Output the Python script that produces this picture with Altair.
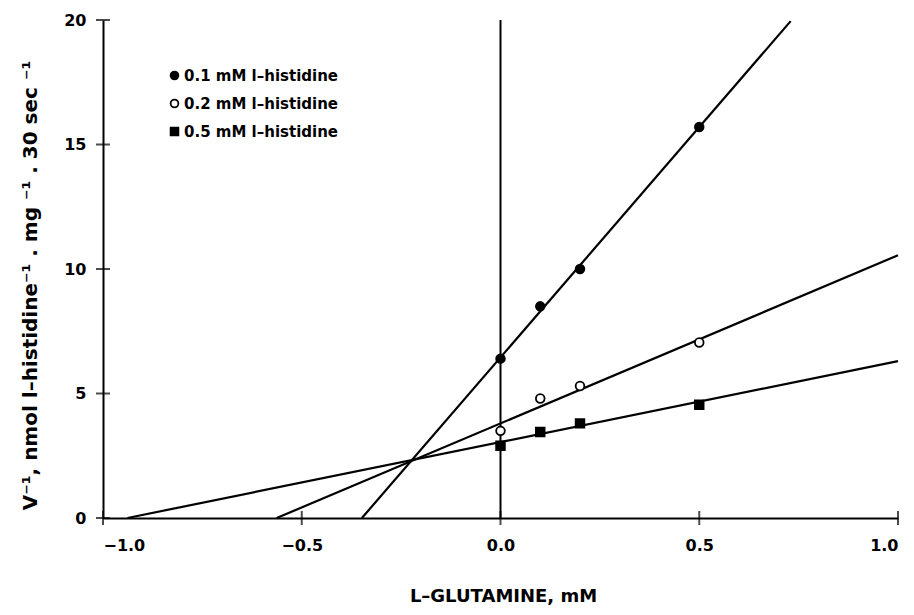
import altair as alt
import pandas as pd

# L-glutamine concentration (mM) at which reciprocal velocities were measured
glutamine_mM = [0.0, 0.1, 0.2, 0.5]

# 1/v for each l-histidine concentration
inv_v_his_01 = [6.4, 8.5, 10.0, 15.7]
inv_v_his_02 = [3.5, 4.8, 5.3, 7.05]
inv_v_his_05 = [2.9, 3.45, 3.8, 4.55]

series_labels = ["0.1 mM l–histidine", "0.2 mM l–histidine", "0.5 mM l–histidine"]

# fitted straight lines (intercept at 0 mM, slope) and where each is drawn to
fit_intercepts = [6.45, 3.8, 3.05]
fit_slopes = [18.5, 6.75, 3.25]
fit_x_end = [0.73, 1.0, 1.0]

x_ticks = [-1.0, -0.5, 0.0, 0.5, 1.0]
y_ticks = [0, 5, 10, 15, 20]

FONT = "DejaVu Sans"

# ---- tables -------------------------------------------------------------
rows = []
for label, vals in zip(series_labels, [inv_v_his_01, inv_v_his_02, inv_v_his_05]):
    for xv, yv in zip(glutamine_mM, vals):
        rows.append({"x": xv, "y": yv, "series": label})
points_df = pd.DataFrame(rows)

line_rows = []
for label, b, m, xe in zip(series_labels, fit_intercepts, fit_slopes, fit_x_end):
    x0 = -b / m  # where the fitted line meets the x axis
    line_rows.append({"x": x0, "y": 0.0, "series": label, "order": 0})
    line_rows.append({"x": xe, "y": b + m * xe, "series": label, "order": 1})
lines_df = pd.DataFrame(line_rows)

zero_df = pd.DataFrame({"x": [0.0], "y": [0.0], "y2": [20.0]})
xtick_df = pd.DataFrame({"x": x_ticks, "y": [0.0] * len(x_ticks)})
ytick_df = pd.DataFrame({"x": [-1.0] * len(y_ticks), "y": y_ticks})

# ---- scales & axes ------------------------------------------------------
x_scale = alt.Scale(domain=[-1.0, 1.0], nice=False, zero=False)
y_scale = alt.Scale(domain=[0, 20], nice=False, zero=False)

x_axis = alt.Axis(
    values=x_ticks, format=".1f", ticks=False, grid=False,
    domainColor="black", domainWidth=2,
    labelFont=FONT, labelFontSize=16, labelFontWeight="bold", labelColor="black",
    labelPadding=19,
    title="L–GLUTAMINE, mM", titleFont=FONT, titleFontSize=18, titleFontWeight="bold",
    titleColor="black", titleX=400, titleY=78, titleAlign="center", titleBaseline="middle",
)
y_axis = alt.Axis(
    values=y_ticks, format="d", ticks=False, grid=False,
    domainColor="black", domainWidth=2,
    labelFont=FONT, labelFontSize=16, labelFontWeight="bold", labelColor="black",
    labelPadding=17,
    title="V⁻¹, nmol l–histidine⁻¹ . mg ⁻¹ . 30 sec ⁻¹",
    titleFont=FONT, titleFontSize=20, titleFontWeight="bold", titleColor="black",
    titleAngle=-90, titleX=-73, titleY=265, titleAlign="center", titleBaseline="middle",
)

X = alt.X("x:Q", scale=x_scale, axis=x_axis)
Y = alt.Y("y:Q", scale=y_scale, axis=y_axis)

# vertical line at zero glutamine
zero_line = alt.Chart(zero_df).mark_rule(color="black", strokeWidth=2).encode(
    x=X, y=Y, y2="y2:Q"
)

fit_lines = alt.Chart(lines_df).mark_line(color="black", strokeWidth=2.2).encode(
    x=X, y=Y, detail="series:N", order="order:Q"
)

# axis ticks that cross the axis lines
x_tick_marks = alt.Chart(xtick_df).mark_tick(
    orient="vertical", color="black", size=14, thickness=2
).encode(x=X, y=Y)
y_tick_marks = alt.Chart(ytick_df).mark_tick(
    orient="horizontal", color="black", size=14, thickness=2
).encode(x=X, y=Y)

no_title = alt.Legend(title=None)
pts = alt.Chart(points_df).mark_point(
    strokeWidth=1.8, opacity=1, size=75
).encode(
    x=X, y=Y,
    shape=alt.Shape(
        "series:N",
        scale=alt.Scale(domain=series_labels, range=["circle", "circle", "square"]),
        legend=no_title,
    ),
    fill=alt.Fill(
        "series:N",
        scale=alt.Scale(domain=series_labels, range=["black", "white", "black"]),
        legend=no_title,
    ),
    stroke=alt.Stroke(
        "series:N",
        scale=alt.Scale(domain=series_labels, range=["black", "black", "black"]),
        legend=no_title,
    ),
)

chart = (
    alt.layer(zero_line, fit_lines, x_tick_marks, y_tick_marks, pts)
    .properties(
        width=795, height=498,
        padding={"left": 103, "top": 20, "right": 16, "bottom": 97},
        autosize=alt.AutoSizeParams(type="none"),
        background="white",
    )
    .configure_view(stroke=None)
    .configure_legend(
        orient="none", legendX=64, legendY=48,
        labelFont=FONT, labelFontSize=15, labelFontWeight="bold", labelColor="black",
        symbolSize=60, symbolStrokeWidth=1.8,
        rowPadding=12, labelOffset=2, padding=0,
    )
)

chart.save("out.html", embed_options={"renderer": "svg", "actions": False})
